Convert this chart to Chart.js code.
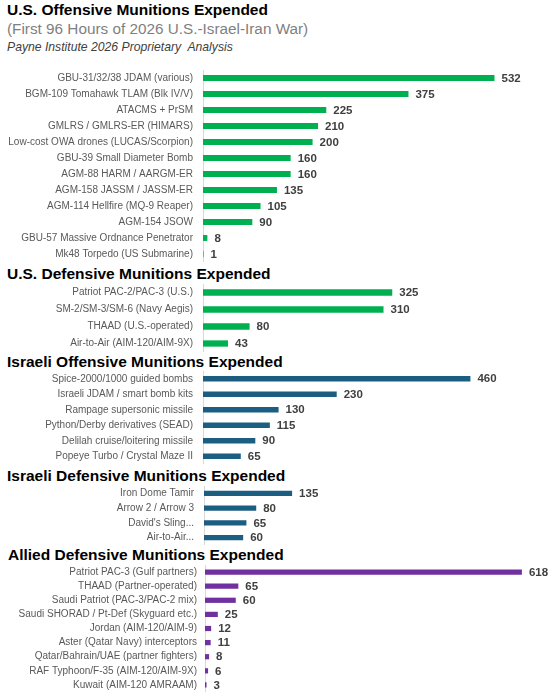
<!DOCTYPE html>
<html>
<head>
<meta charset="utf-8">
<script src="https://cdn.jsdelivr.net/npm/chart.js@4.4.1/dist/chart.umd.min.js"></script>
<style>
  html, body { margin: 0; padding: 0; background: #ffffff; }
  body { width: 556px; height: 692px; position: relative; overflow: hidden; font-family: "Liberation Sans", Arial, sans-serif; }
  .t { position: absolute; left: 7px; white-space: nowrap; }
  .h { font-weight: bold; font-size: 15.5px; line-height: 20px; color: #000; }
  .sub { font-size: 15.3px; line-height: 20px; color: #7f7f7f; }
  .it { font-style: italic; font-size: 12.2px; line-height: 16px; color: #404040; }
  .box { position: absolute; left: 0; width: 556px; }
</style>
</head>
<body>
<div class="t h" style="top:0px">U.S. Offensive Munitions Expended</div>
<div class="t sub" style="top:19px">(First 96 Hours of 2026 U.S.-Israel-Iran War)</div>
<div class="t it" style="top:39px">Payne Institute 2026 Proprietary&nbsp; Analysis</div>
<div class="t h" style="top:264px">U.S. Defensive Munitions Expended</div>
<div class="t h" style="top:352px">Israeli Offensive Munitions Expended</div>
<div class="t h" style="top:465.5px">Israeli Defensive Munitions Expended</div>
<div class="t h" style="top:544.5px;left:8px">Allied Defensive Munitions Expended</div>

<div class="box" id="b1"><canvas id="c1"></canvas></div>
<div class="box" id="b2"><canvas id="c2"></canvas></div>
<div class="box" id="b3"><canvas id="c3"></canvas></div>
<div class="box" id="b4"><canvas id="c4"></canvas></div>
<div class="box" id="b5"><canvas id="c5"></canvas></div>

<script>
// ---- Data ----
const usOffLabels = [
  "GBU-31/32/38 JDAM (various)",
  "BGM-109 Tomahawk TLAM (Blk IV/V)",
  "ATACMS + PrSM",
  "GMLRS / GMLRS-ER (HIMARS)",
  "Low-cost OWA drones (LUCAS/Scorpion)",
  "GBU-39 Small Diameter Bomb",
  "AGM-88 HARM / AARGM-ER",
  "AGM-158 JASSM / JASSM-ER",
  "AGM-114 Hellfire (MQ-9 Reaper)",
  "AGM-154 JSOW",
  "GBU-57 Massive Ordnance Penetrator",
  "Mk48 Torpedo (US Submarine)"
];
const usOffValues = [532, 375, 225, 210, 200, 160, 160, 135, 105, 90, 8, 1];

const usDefLabels = [
  "Patriot PAC-2/PAC-3 (U.S.)",
  "SM-2/SM-3/SM-6 (Navy Aegis)",
  "THAAD (U.S.-operated)",
  "Air-to-Air (AIM-120/AIM-9X)"
];
const usDefValues = [325, 310, 80, 43];

const ilOffLabels = [
  "Spice-2000/1000 guided bombs",
  "Israeli JDAM / smart bomb kits",
  "Rampage supersonic missile",
  "Python/Derby derivatives (SEAD)",
  "Delilah cruise/loitering missile",
  "Popeye Turbo / Crystal Maze II"
];
const ilOffValues = [460, 230, 130, 115, 90, 65];

const ilDefLabels = [
  "Iron Dome Tamir",
  "Arrow 2 / Arrow 3",
  "David's Sling...",
  "Air-to-Air..."
];
const ilDefValues = [135, 80, 65, 60];

const alDefLabels = [
  "Patriot PAC-3 (Gulf partners)",
  "THAAD (Partner-operated)",
  "Saudi Patriot (PAC-3/PAC-2 mix)",
  "Saudi SHORAD / Pt-Def (Skyguard etc.)",
  "Jordan (AIM-120/AIM-9)",
  "Aster (Qatar Navy) interceptors",
  "Qatar/Bahrain/UAE (partner fighters)",
  "RAF Typhoon/F-35 (AIM-120/AIM-9X)",
  "Kuwait (AIM-120 AMRAAM)"
];
const alDefValues = [618, 65, 60, 25, 12, 11, 8, 6, 3];

// axis maxima (scale of each panel)
const axisMax = [626, 589, 590, 524, 665];

// ---- Rendering ----
const FONT = '"Liberation Sans", Arial, sans-serif';

const valueLabels = {
  id: 'valueLabels',
  afterDatasetsDraw(chart) {
    const ctx = chart.ctx;
    const meta = chart.getDatasetMeta(0);
    const data = chart.data.datasets[0].data;
    ctx.save();
    ctx.font = 'bold 11.5px ' + FONT;
    ctx.fillStyle = '#404040';
    ctx.textAlign = 'left';
    ctx.textBaseline = 'middle';
    meta.data.forEach((bar, i) => {
      ctx.fillText(String(data[i]), bar.x + 7, bar.y + 0.5);
    });
    ctx.restore();
  }
};

function makeChart(n, top, height, axisX, labelPad, labels, values, color, max) {
  const box = document.getElementById('b' + n);
  box.style.top = top + 'px';
  box.style.height = height + 'px';
  const cv = document.getElementById('c' + n);
  return new Chart(cv, {
    type: 'bar',
    data: {
      labels: labels,
      datasets: [{
        data: values,
        backgroundColor: color,
        borderWidth: 0,
        categoryPercentage: 1,
        barPercentage: 0.37
      }]
    },
    options: {
      indexAxis: 'y',
      responsive: true,
      maintainAspectRatio: false,
      animation: false,
      layout: { padding: { top: 0, bottom: 0, left: 0, right: 10 } },
      plugins: { legend: { display: false }, tooltip: { enabled: false }, title: { display: false } },
      scales: {
        x: { display: false, min: 0, max: max },
        y: {
          afterFit(scale) {
            scale.width = axisX;
            scale.paddingTop = 0;
            scale.paddingBottom = 0;
          },
          grid: { display: false, drawTicks: false },
          border: { display: true, color: '#d9d9d9', width: 1 },
          ticks: {
            autoSkip: false,
            padding: labelPad,
            color: '#595959',
            font: { family: FONT, size: 10 }
          }
        }
      }
    },
    plugins: [valueLabels]
  });
}

makeChart(1, 70, 192, 203, 10, usOffLabels, usOffValues, '#00b050', axisMax[0]);
makeChart(2, 284, 68, 203, 10, usDefLabels, usDefValues, '#00b050', axisMax[1]);
makeChart(3, 371, 93, 203, 10, ilOffLabels, ilOffValues, '#1b5e82', axisMax[2]);
makeChart(4, 486, 59, 204, 10, ilDefLabels, ilDefValues, '#1b5e82', axisMax[3]);
makeChart(5, 565, 127, 205, 8, alDefLabels, alDefValues, '#7030a0', axisMax[4]);
</script>
</body>
</html>
